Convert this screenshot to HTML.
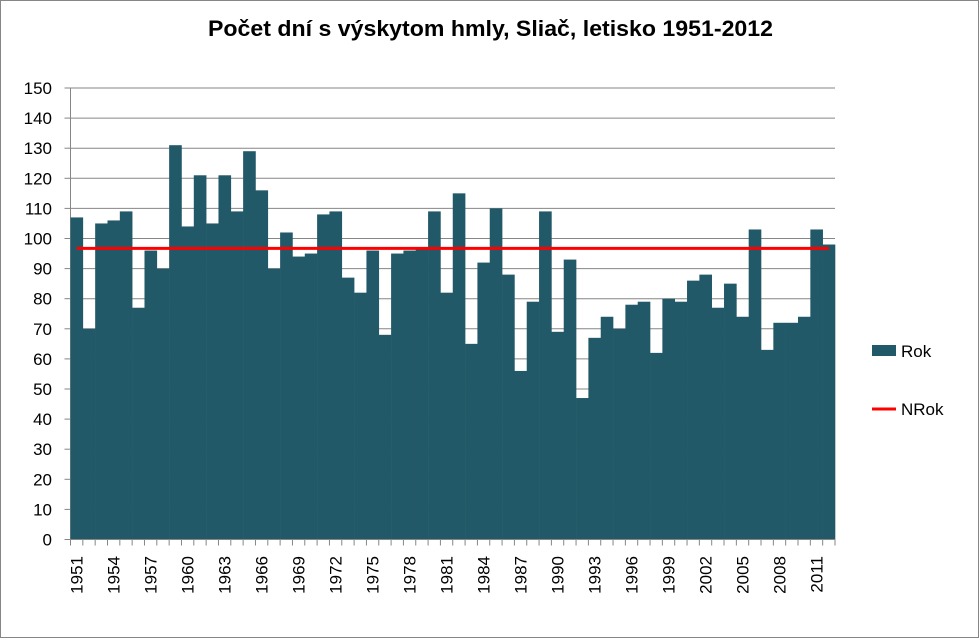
<!DOCTYPE html>
<html><head><meta charset="utf-8"><style>
html,body{margin:0;padding:0;background:#fff}
svg{display:block;font-family:"Liberation Sans",sans-serif}
</style></head><body>
<svg width="980" height="639" viewBox="0 0 980 639">
<rect x="0.5" y="0.5" width="978" height="637" fill="#fff" stroke="#868686"/>
<text x="208" y="36" font-size="22" font-weight="bold" textLength="565" lengthAdjust="spacingAndGlyphs">Počet dní s výskytom hmly, Sliač, letisko 1951-2012</text>
<g id="grid"></g>
<g id="yaxis"></g>
<g id="bars"></g>
<g id="xaxis"></g>
<g id="line"></g>
<g>
<g><rect x="872" y="345" width="24" height="11" fill="#225968"/><text x="901" y="357" font-size="17">Rok</text></g>
<g><line x1="872" y1="409" x2="896" y2="409" stroke="#ff0000" stroke-width="3"/><text x="901" y="415" font-size="17">NRok</text></g>
</g>
</svg>
<script>
const years = [1951,1952,1953,1954,1955,1956,1957,1958,1959,1960,1961,1962,1963,1964,1965,1966,1967,1968,1969,1970,1971,1972,1973,1974,1975,1976,1977,1978,1979,1980,1981,1982,1983,1984,1985,1986,1987,1988,1989,1990,1991,1992,1993,1994,1995,1996,1997,1998,1999,2000,2001,2002,2003,2004,2005,2006,2007,2008,2009,2010,2011,2012];
const rokValues = [107,70,105,106,109,77,96,90,131,104,121,105,121,109,129,116,90,102,94,95,108,109,87,82,96,68,95,96,97,109,82,115,65,92,110,88,56,79,109,69,93,47,67,74,70,78,79,62,80,79,86,88,77,85,74,103,63,72,72,74,103,98];
const nrokValue = 96.7;
const yTicks = [0,10,20,30,40,50,60,70,80,90,100,110,120,130,140,150];

const NS="http://www.w3.org/2000/svg";
const X0=70.5,X1=835,Y0=539.5,Y1=88;
const bw=(X1-X0)/years.length;
const y=v=>Y0-(v/150)*(Y0-Y1);
const x=i=>X0+i*bw;
function mk(tag,attrs,parent){const e=document.createElementNS(NS,tag);for(const k in attrs)e.setAttribute(k,attrs[k]);parent.appendChild(e);return e;}
const grid=document.getElementById('grid'),ya=document.getElementById('yaxis'),bars=document.getElementById('bars'),xa=document.getElementById('xaxis'),ln=document.getElementById('line');
yTicks.forEach(t=>{
  if(t>0){const g=mk('line',{x1:X0,x2:X1,y1:y(t),y2:y(t),stroke:'#868686','stroke-width':1},grid);
  
  }
  mk('line',{x1:X0-6,x2:X0,y1:y(t),y2:y(t),stroke:'#868686'},ya);
  const tx=mk('text',{x:52,y:y(t)+6,'text-anchor':'end','font-size':17},ya);
  tx.textContent=t;
  
  
});
mk('line',{x1:X0,x2:X0,y1:Y1,y2:Y0,stroke:'#868686'},ya);
rokValues.forEach((v,i)=>{
  const r=mk('rect',{x:x(i),y:y(v),width:bw+0.3,height:Y0-y(v),fill:'#225968'},bars);
  
  
});
mk('line',{x1:X0,x2:X1,y1:Y0,y2:Y0,stroke:'#868686'},xa);
for(let i=0;i<=years.length;i++){mk('line',{x1:x(i),x2:x(i),y1:Y0,y2:Y0+6,stroke:'#868686'},xa);}
years.forEach((yr,i)=>{
  if(i%3!==0)return;
  const cx=x(i)+bw/2+6;
  const t=mk('text',{x:0,y:0,'text-anchor':'end','font-size':17,transform:`translate(${cx},556) rotate(-90)`},xa);
  t.textContent=yr;
  
  
});
const l=mk('line',{x1:x(0)+bw/2,x2:x(years.length-1)+bw/2,y1:y(nrokValue),y2:y(nrokValue),stroke:'#ff0000','stroke-width':3},ln);


</script>
</body></html>
